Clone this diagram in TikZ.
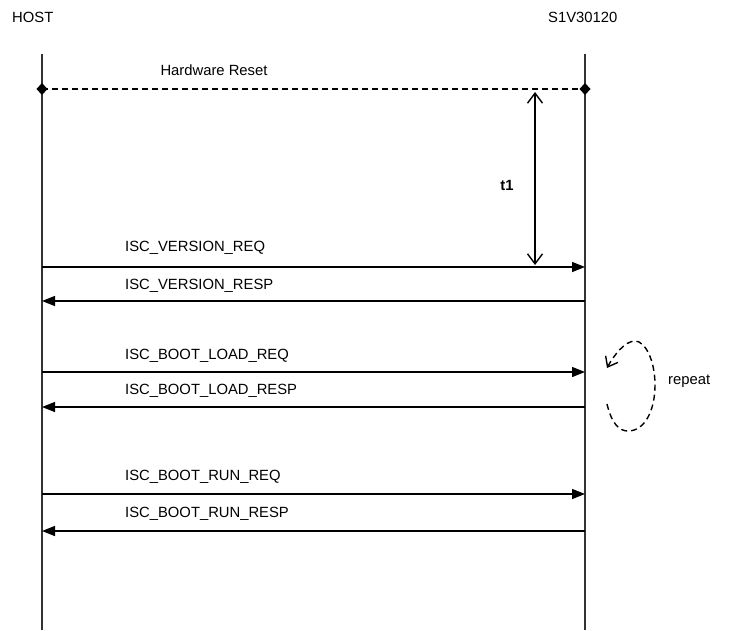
\documentclass[tikz,border=0pt]{standalone}
\usepackage{fontspec}
\setmainfont{Liberation Sans}
\usetikzlibrary{arrows.meta}
\begin{document}
\begin{tikzpicture}[x=1pt,y=-1pt,
  lbl/.style={inner sep=0pt,font=\fontsize{14.8}{17}\selectfont},
  life/.style={line width=1.4pt,draw=black!80},
  msg/.style={line width=1.4pt,-{Triangle[length=13pt,width=10pt]}},
  dashline/.style={line width=1.4pt,dash pattern=on 6pt off 4pt}]
\useasboundingbox (0,0) rectangle (731,630);
% titles
\node[lbl,anchor=base west] (host) at (12,22) {HOST};
\node[lbl,anchor=base west] (dev) at (548,22) {S1V30120};
% lifelines
\coordinate (hT) at (42,54); \coordinate (hB) at (42,630);
\coordinate (dT) at (585,54); \coordinate (dB) at (585,630);
\draw[life] (hT) -- (hB);
\draw[life] (dT) -- (dB);
% hardware reset
\coordinate (r1) at (42,89);
\coordinate (r2) at (585,89);
\draw[dashline] (r1) -- (r2);
\fill (r1) ++(-5.5,0) -- ++(5.5,-6) -- ++(5.5,6) -- ++(-5.5,6) -- cycle;
\fill (r2) ++(-5.5,0) -- ++(5.5,-6) -- ++(5.5,6) -- ++(-5.5,6) -- cycle;
\node[lbl,anchor=base] (hr) at (214,75) {Hardware Reset};
% t1
\coordinate (t1a) at (535,92); \coordinate (t1b) at (535,265);
\draw[line width=1.4pt,{Straight Barb[length=10pt,width=15pt,line width=1.4pt]}-{Straight Barb[length=10pt,width=15pt,line width=1.4pt]}] (t1a) -- (t1b);
\node[lbl,anchor=base,font=\fontsize{14.8}{17}\selectfont\bfseries] (t1) at (507,190) {t1};
% messages
\foreach \n/\y in {m1/267,m2/301,m3/372,m4/407,m5/494,m6/531}{
  \coordinate (\n h) at (42,\y); \coordinate (\n d) at (585,\y);
}
\draw[msg] (m1h) -- (m1d);
\draw[msg] (m2d) -- (m2h);
\draw[msg] (m3h) -- (m3d);
\draw[msg] (m4d) -- (m4h);
\draw[msg] (m5h) -- (m5d);
\draw[msg] (m6d) -- (m6h);
\node[lbl,anchor=base west] (l1) at (125,251) {ISC\_VERSION\_REQ};
\node[lbl,anchor=base west] (l2) at (125,289) {ISC\_VERSION\_RESP};
\node[lbl,anchor=base west] (l3) at (125,359) {ISC\_BOOT\_LOAD\_REQ};
\node[lbl,anchor=base west] (l4) at (125,394) {ISC\_BOOT\_LOAD\_RESP};
\node[lbl,anchor=base west] (l5) at (125,480) {ISC\_BOOT\_RUN\_REQ};
\node[lbl,anchor=base west] (l6) at (125,517) {ISC\_BOOT\_RUN\_RESP};
% repeat loop
\coordinate (ls) at (607,404);
\coordinate (le) at (607,368);
\draw[line width=1.4pt,dash pattern=on 6pt off 4pt,-{Straight Barb[length=9pt,width=14pt,line width=1.4pt]}]
  (ls) .. controls (612,425) and (620,431) .. (628,431)
       .. controls (645,431) and (655,410) .. (655,385)
       .. controls (655,360) and (645,341) .. (635,341)
       .. controls (625,341) and (614,355) .. (le);
\node[lbl,anchor=base west] (rep) at (668,384) {repeat};
\end{tikzpicture}
\end{document}
